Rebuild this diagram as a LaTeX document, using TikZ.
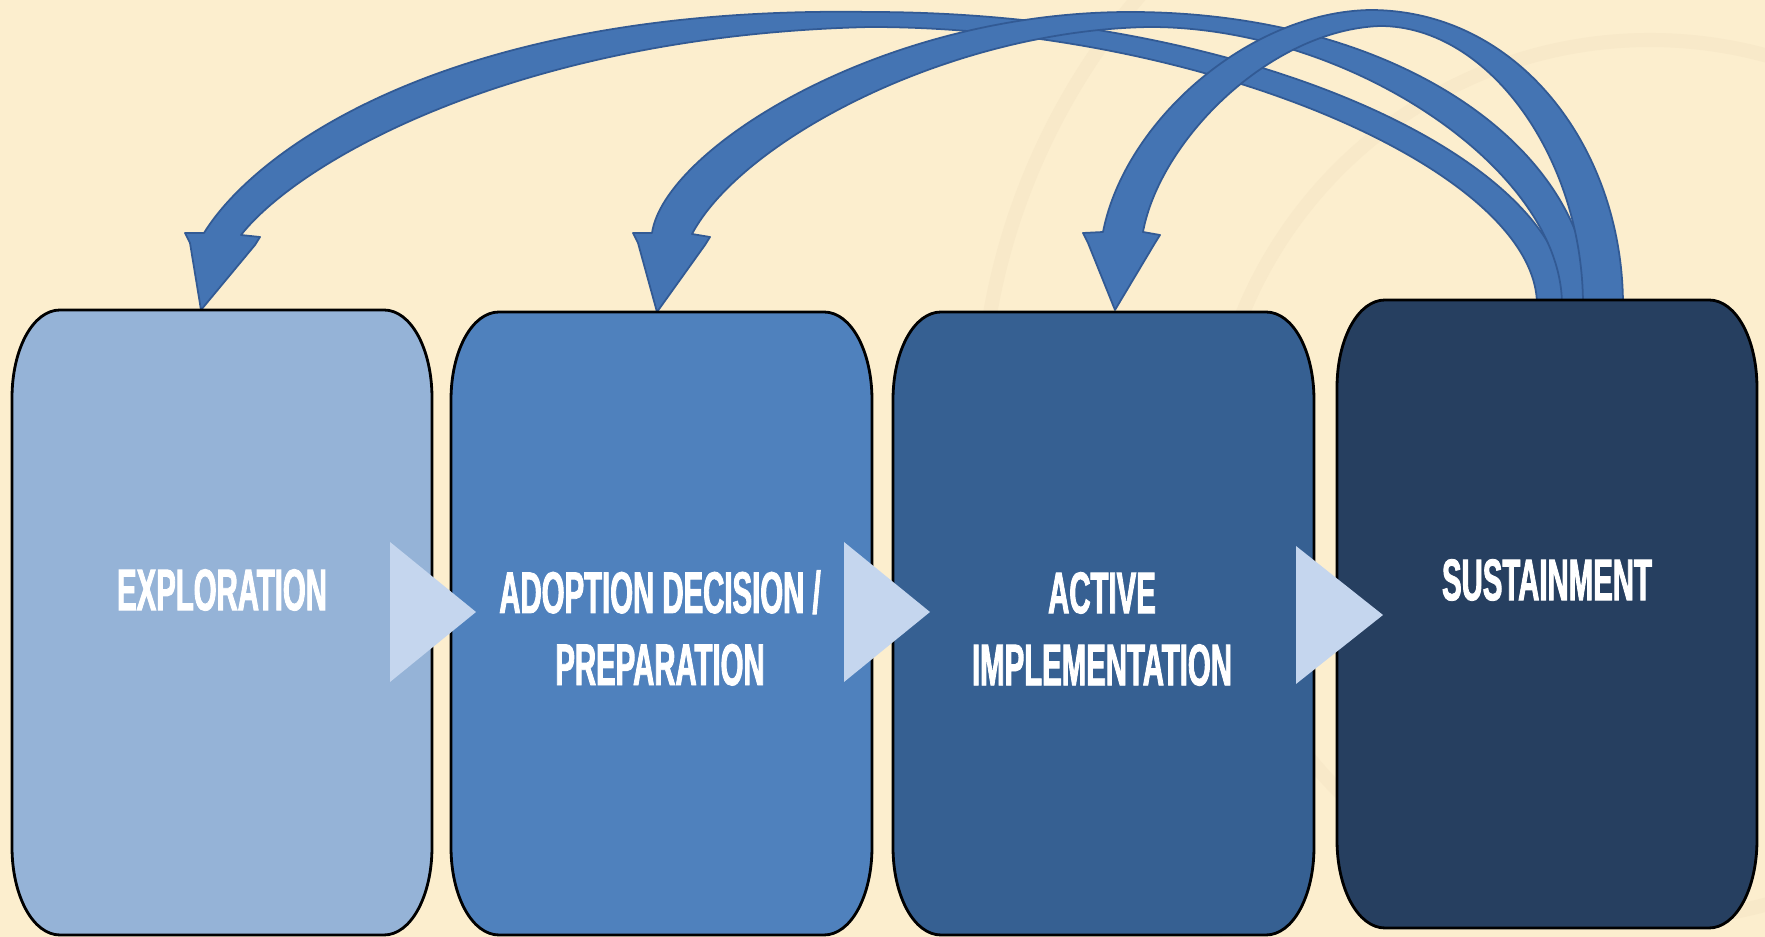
\documentclass[tikz,border=0pt]{standalone}
\usepackage{fontspec}
\newfontfamily\labelfont[FakeStretch=0.5,FakeBold=1.5]{Liberation Sans}
\definecolor{bg}{RGB}{252,238,206}
\definecolor{wm}{RGB}{248,233,201}
\definecolor{c1}{RGB}{149,179,215}
\definecolor{c2}{RGB}{79,129,189}
\definecolor{c3}{RGB}{54,96,146}
\definecolor{c4}{RGB}{38,63,96}
\definecolor{tri}{RGB}{197,214,238}
\definecolor{arfill}{RGB}{68,116,179}
\definecolor{aredge}{RGB}{50,90,148}
\newcommand\stagebox[5]{%
  \filldraw[fill=#5, draw=black, line width=0.8pt]
  (#1,#2+88) .. controls (#1,#2+39) and (#1+21,#2) .. (#1+48,#2)
  -- (#3-48,#2) .. controls (#3-21,#2) and (#3,#2+39) .. (#3,#2+88)
  -- (#3,#4-88) .. controls (#3,#4-39) and (#3-21,#4) .. (#3-48,#4)
  -- (#1+48,#4) .. controls (#1+21,#4) and (#1,#4-39) .. (#1,#4-88) -- cycle;}
\tikzset{
  lbl/.style={font=\labelfont\bfseries\fontsize{16.7}{20.5}\selectfont, text=white, align=center, inner sep=0pt},
  curvedarrow/.style={fill=arfill, draw=aredge, line width=0.5pt, line join=round},
  flowtri/.style={fill=tri},
  watermark/.style={draw=wm, line width=4pt}
}
\begin{document}
\begin{tikzpicture}[x=0.01cm,y=-0.01cm]
\useasboundingbox (0,0) rectangle (1765,937);
\fill[bg] (0,0) rectangle (1765,937);
% faint watermark
\begin{scope}
\clip (0,0) rectangle (1765,937);
\draw[watermark] (1650,480) circle[radius=440];
\draw[watermark] (1650,430) circle[radius=670];
\end{scope}

% curved feedback arrows (from SUSTAINMENT back to earlier stages)
\filldraw[curvedarrow]
  (1567,305) .. controls (1567,160) and (1250,12) .. (870,12)
  .. controls (450,5) and (255,150) .. (204,233)
  -- (185,233) -- (190,243) -- (201,310) -- (255,245) -- (260,237) -- (241,235)
  .. controls (300,160) and (520,35) .. (870,27)
  .. controls (1200,27) and (1537,170) .. (1537,305) -- cycle;
\filldraw[curvedarrow]
  (1590,305) .. controls (1590,150) and (1400,12) .. (1130,12)
  .. controls (880,12) and (664,150) .. (652,233)
  -- (633,233) -- (638,243) -- (657,312) -- (705,245) -- (710,237) -- (692,234)
  .. controls (742,140) and (950,30) .. (1150,27)
  .. controls (1350,27) and (1562,170) .. (1562,305) -- cycle;
\filldraw[curvedarrow]
  (1623,305) .. controls (1623,150) and (1520,10) .. (1370,10)
  .. controls (1250,12) and (1125,120) .. (1103,232)
  -- (1083,233) -- (1088,243) -- (1115,310) -- (1155,243) -- (1160,235) -- (1143,232)
  .. controls (1160,140) and (1270,30) .. (1380,26)
  .. controls (1490,26) and (1583,160) .. (1583,305) -- cycle;

% stage boxes
\stagebox{12}{310}{432}{935}{c1}
\stagebox{451}{312}{872}{935}{c2}
\stagebox{893}{312}{1314}{935}{c3}
\stagebox{1337}{300}{1757}{928}{c4}

% labels
\node[lbl] (b1) at (222,590) {EXPLORATION};
\node[lbl] (b2) at (660,628) {ADOPTION DECISION /\\PREPARATION};
\node[lbl] (b3) at (1102,629) {ACTIVE\\IMPLEMENTATION};
\node[lbl] (b4) at (1547,580) {SUSTAINMENT};

% flow triangles between stages
\fill[flowtri] (390,542) -- (476,612) -- (390,682) -- cycle;
\fill[flowtri] (844,542) -- (930,612) -- (844,682) -- cycle;
\fill[flowtri] (1296,546) -- (1383,615) -- (1296,684) -- cycle;
\end{tikzpicture}
\end{document}
